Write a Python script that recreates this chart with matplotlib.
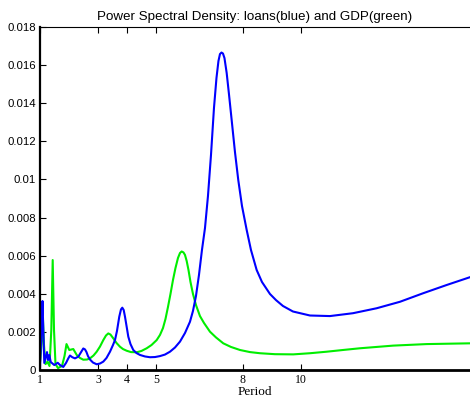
import matplotlib
matplotlib.use("Agg")
import matplotlib.pyplot as plt

# Blue series: loans
loans_period = [1.000, 1.052, 1.086, 1.114, 1.148, 1.241, 1.276, 1.321, 1.369, 1.493,
                1.610, 1.690, 1.803, 1.897, 1.976, 2.034, 2.114, 2.207, 2.321, 2.397,
                2.493, 2.552, 2.603, 2.655, 2.724, 2.828, 2.955, 3.069, 3.183, 3.293,
                3.414, 3.517, 3.586, 3.655, 3.734, 3.793, 3.838, 3.886, 3.931, 3.990,
                4.045, 4.121, 4.217, 4.328, 4.448, 4.621, 4.793, 4.966, 5.138, 5.310,
                5.483, 5.655, 5.828, 6.000, 6.172, 6.276, 6.379, 6.483, 6.586, 6.690,
                6.793, 6.897, 7.000, 7.086, 7.155, 7.207, 7.259, 7.310, 7.362, 7.438,
                7.517, 7.610, 7.724, 7.838, 7.966, 8.128, 8.276, 8.472, 8.655, 8.931,
                9.138, 9.379, 9.724, 10.310, 11.000, 11.793, 12.610, 13.414, 14.217, 15.024,
                15.828]
loans_psd = [0.00010, 0.00210, 0.00362, 0.00210, 0.00037, 0.00094, 0.00052, 0.00079, 0.00042, 0.00026,
             0.00038, 0.00026, 0.00016, 0.00037, 0.00061, 0.00076, 0.00067, 0.00061, 0.00070, 0.00089,
             0.00113, 0.00108, 0.00094, 0.00073, 0.00055, 0.00039, 0.00030, 0.00034, 0.00044, 0.00063,
             0.00096, 0.00131, 0.00157, 0.00205, 0.00280, 0.00318, 0.00327, 0.00315, 0.00280, 0.00226,
             0.00175, 0.00136, 0.00105, 0.00089, 0.00079, 0.00071, 0.00067, 0.00068, 0.00073, 0.00081,
             0.00096, 0.00118, 0.00149, 0.00194, 0.00253, 0.00310, 0.00388, 0.00499, 0.00630, 0.00745,
             0.00913, 0.01128, 0.01375, 0.01532, 0.01622, 0.01658, 0.01666, 0.01661, 0.01637, 0.01559,
             0.01448, 0.01312, 0.01144, 0.00997, 0.00861, 0.00735, 0.00630, 0.00525, 0.00462, 0.00399,
             0.00367, 0.00336, 0.00307, 0.00286, 0.00283, 0.00298, 0.00324, 0.00358, 0.00403, 0.00446,
             0.00487]

# Green series: GDP
gdp_period = [1.000, 1.052, 1.103, 1.138, 1.190, 1.259, 1.328, 1.390, 1.438, 1.483,
              1.534, 1.621, 1.759, 1.845, 1.914, 2.010, 2.148, 2.266, 2.379, 2.493,
              2.621, 2.724, 2.845, 2.955, 3.069, 3.183, 3.276, 3.355, 3.431, 3.528,
              3.638, 3.759, 3.862, 3.990, 4.138, 4.334, 4.500, 4.679, 4.845, 5.024,
              5.138, 5.241, 5.328, 5.414, 5.500, 5.586, 5.672, 5.759, 5.828, 5.886,
              5.948, 6.000, 6.059, 6.121, 6.190, 6.276, 6.379, 6.517, 6.655, 6.862,
              7.069, 7.321, 7.586, 7.897, 8.241, 8.586, 9.103, 9.734, 10.310, 10.886,
              11.448, 12.034, 13.183, 14.334, 15.828]
gdp_psd = [0.00042, 0.00131, 0.00262, 0.00131, 0.00031, 0.00042, 0.00021, 0.00210, 0.00577, 0.00210,
           0.00031, 0.00010, 0.00021, 0.00073, 0.00136, 0.00105, 0.00110, 0.00079, 0.00063, 0.00054,
           0.00055, 0.00061, 0.00076, 0.00096, 0.00123, 0.00157, 0.00181, 0.00192, 0.00186, 0.00166,
           0.00142, 0.00122, 0.00110, 0.00101, 0.00094, 0.00093, 0.00100, 0.00114, 0.00131, 0.00157,
           0.00184, 0.00220, 0.00268, 0.00331, 0.00399, 0.00472, 0.00535, 0.00588, 0.00614, 0.00622,
           0.00617, 0.00604, 0.00572, 0.00525, 0.00462, 0.00399, 0.00341, 0.00283, 0.00247, 0.00201,
           0.00171, 0.00140, 0.00121, 0.00105, 0.00094, 0.00088, 0.00083, 0.00082, 0.00088, 0.00096,
           0.00105, 0.00114, 0.00128, 0.00136, 0.00140]

x_ticks = [1, 3, 4, 5, 8, 10]
y_ticks = [0, 0.002, 0.004, 0.006, 0.008, 0.010, 0.012, 0.014, 0.016, 0.018]
y_ticklabels = ["0", "0.002", "0.004", "0.006", "0.008", "0.01", "0.012", "0.014", "0.016", "0.018"]

fig = plt.figure(figsize=(4.70, 4.01), dpi=100)
ax = fig.add_axes([40 / 470, 31 / 401, 430 / 470, 343 / 401])

ax.plot(gdp_period, gdp_psd, color="#00ee00", lw=1.5, solid_joinstyle="round")
ax.plot(loans_period, loans_psd, color="#0000ff", lw=1.5, solid_joinstyle="round")

ax.set_xlim(1, 15.83)
ax.set_ylim(0, 0.018)
ax.set_xticks(x_ticks)
ax.set_xticklabels([str(t) for t in x_ticks], fontfamily="Liberation Serif", fontsize=8.5)
ax.set_yticks(y_ticks)
ax.set_yticklabels(y_ticklabels, fontfamily="Liberation Sans", fontsize=8.2)

ax.tick_params(axis="x", direction="in", top=True, length=4, width=0.8, pad=3)
ax.tick_params(axis="y", direction="in", length=4, width=0.8, pad=3)

ax.spines["right"].set_visible(False)
ax.spines["top"].set_linewidth(0.8)
ax.spines["left"].set_linewidth(1.6)
ax.spines["bottom"].set_linewidth(2.0)

ax.set_xlabel("Period", fontfamily="Liberation Serif", fontsize=9.5, labelpad=0)
ax.set_title("Power Spectral Density: loans(blue) and GDP(green)",
             fontfamily="Liberation Sans", fontsize=9.6, pad=5)

fig.savefig("out.png", dpi=100)
